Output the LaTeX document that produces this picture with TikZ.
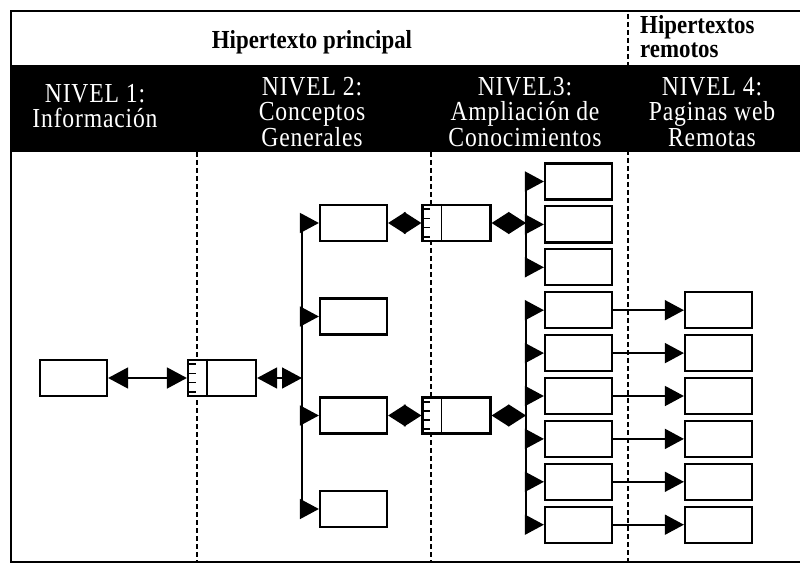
\documentclass[tikz,border=0pt]{standalone}
\usepackage{fontspec}
\setmainfont{Liberation Serif}
\newfontfamily\headfont[FakeStretch=0.88]{Liberation Serif}
\newfontfamily\levelfont[FakeStretch=0.86,LetterSpace=3]{Liberation Serif}
\usetikzlibrary{arrows.meta,calc}

% index page: a box with a narrow ruled strip on its left side
\newcommand\indexmarks[1]{%
  \draw[line width=1.8pt] ([xshift=20pt]#1.north west) -- ([xshift=20pt]#1.south west);
  \foreach \f in {0.14,0.38,0.62,0.86}
    \draw[line width=1.7pt] ($(#1.north west)!\f!(#1.south west)$) -- ++(9,0);
}

\begin{document}
\begin{tikzpicture}[x=1pt,y=-1pt,
  page/.style={draw, line width=2.2pt, fill=white, inner sep=0pt,
    minimum width=67pt, minimum height=36pt},
  idxpage/.style={page, minimum width=68pt},
  branch/.style={line width=1.6pt, -{Triangle[length=19pt,width=20pt]}},
  twoway/.style={line width=1.6pt,
    {Triangle[length=20pt,width=21pt]}-{Triangle[length=20pt,width=21pt]}},
  diamond link/.style={line width=1.6pt,
    {Triangle[length=17.5pt,width=22pt]}-{Triangle[length=17.5pt,width=22pt]}},
  trunk/.style={line width=1.8pt},
  separator/.style={line width=1.8pt, dash pattern=on 5pt off 3pt},
  title/.style={font=\headfont\fontsize{26}{25}\selectfont\bfseries, inner sep=0pt},
  level/.style={text=white, align=center, inner sep=0pt,
    font=\levelfont\fontsize{27.5}{25.5}\selectfont},
]
\useasboundingbox (0,0) rectangle (800,564);

% frame and header band
\fill[black] (11,65) rectangle (800,152);
\draw[line width=2pt] (800,11) -- (11,11) -- (11,562) -- (800,562);

% column separators
\draw[separator] (197,152) -- (197,562);
\draw[separator] (431,152) -- (431,562);
\draw[separator] (628,14) -- (628,562);

% headings
\node[title, anchor=base] (hmain) at (312,49) {Hipertexto principal};
\node[title, anchor=base west] (hrem1) at (640,34) {Hipertextos};
\node[title, anchor=base west] (hrem2) at (640,58) {remotos};

\node[level] (lv1) at (95,106) {NIVEL 1:\\Información};
\node[level] (lv2) at (312,112) {NIVEL 2:\\Conceptos\\Generales};
\node[level] (lv3) at (525,112) {NIVEL3:\\Ampliación de\\Conocimientos};
\node[level] (lv4) at (712,112) {NIVEL 4:\\Paginas web\\Remotas};

% level 1
\node[page] (b1) at (73.5,378) {};

% level 2
\node[idxpage] (i2) at (222,378) {};
\indexmarks{i2}
\node[page] (b2a) at (353.5,223) {};
\node[page] (b2b) at (353.5,316.5) {};
\node[page] (b2c) at (353.5,415.5) {};
\node[page] (b2d) at (353.5,509) {};

% level 3
\node[idxpage] (i3a) at (456.5,223) {};
\indexmarks{i3a}
\node[idxpage] (i3b) at (456.5,415.5) {};
\indexmarks{i3b}
\foreach \n/\y in {a/181.5,b/224.4,c/267.3,d/310.2,e/353.1,f/396,g/438.9,h/481.8,i/524.7}
  \node[page] (b3\n) at (578.5,\y) {};

% level 4
\foreach \n/\y in {a/310.2,b/353.1,c/396,d/438.9,e/481.8,f/524.7}
  \node[page] (b4\n) at (718.5,\y) {};

% trunk positions
\coordinate (t2) at (302,0);
\coordinate (t3) at (526,0);

% level 1 <-> level 2
\draw[twoway] (b1.east) -- (i2.west);
\draw[twoway] (i2.east) -- (i2.east -| t2);
\draw[trunk] (b2a.west -| t2) -- (b2d.west -| t2);
\foreach \n in {a,b,c,d}
  \draw[branch] (b2\n.west -| t2) -- (b2\n.west);

% level 2 <-> level 3
\draw[diamond link] (b2a.east) -- (i3a.west);
\draw[diamond link] (b2c.east) -- (i3b.west);
\draw[diamond link] (i3a.east) -- (i3a.east -| t3);
\draw[diamond link] (i3b.east) -- (i3b.east -| t3);
\draw[trunk] (b3a.west -| t3) -- (b3c.west -| t3);
\draw[trunk] (b3d.west -| t3) -- (b3i.west -| t3);
\foreach \n in {a,b,c,d,e,f,g,h,i}
  \draw[branch] (b3\n.west -| t3) -- (b3\n.west);

% level 3 -> remote pages
\draw[branch] (b3d.east) -- (b4a.west);
\draw[branch] (b3e.east) -- (b4b.west);
\draw[branch] (b3f.east) -- (b4c.west);
\draw[branch] (b3g.east) -- (b4d.west);
\draw[branch] (b3h.east) -- (b4e.west);
\draw[branch] (b3i.east) -- (b4f.west);
\end{tikzpicture}
\end{document}
